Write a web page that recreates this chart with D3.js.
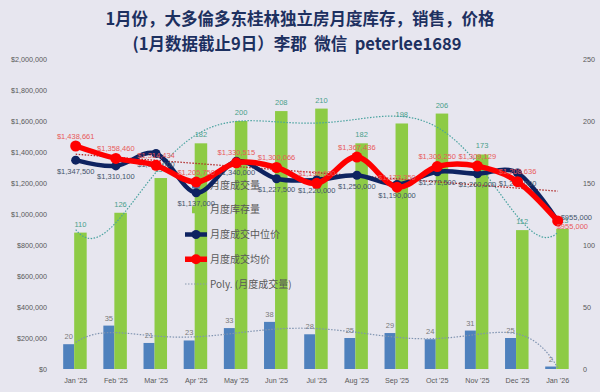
<!DOCTYPE html>
<html><head><meta charset="utf-8">
<script src="https://cdn.jsdelivr.net/npm/d3@7"></script>
<style>
html,body{margin:0;padding:0;background:#e7e6ef;}
svg{display:block;}
text{font-family:"Liberation Sans",Arial,sans-serif;}
</style></head>
<body>
<svg id="c" width="600" height="392"></svg>
<script>
const months = ["Jan '25","Feb '25","Mar '25","Apr '25","May '25","Jun '25","Jul '25","Aug '25","Sep '25","Oct '25","Nov '25","Dec '25","Jan '26"];
const sales = [20,35,21,23,33,38,28,25,29,24,31,25,2];
const inventory = [110,126,154,182,200,208,210,182,198,206,173,112,113];
const medianPrice = [1347500,1310100,1390000,1137000,1340000,1227500,1220000,1250000,1190000,1272500,1260000,1265000,955000];
const meanPrice = [1438661,1358460,1314434,1205750,1330515,1300066,1198000,1367436,1173350,1306250,1309129,1208636,955000];
const leftTicks = [0,200000,400000,600000,800000,1000000,1200000,1400000,1600000,1800000,2000000];
const rightTicks = [0,50,100,150,200,250];
const titleLines = ["1月份，大多倫多东桂林独立房月度库存，销售，价格","(1月数据截止9日）李郡  微信  peterlee1689"];
const legendItems = ["月度成交量","月度库存量","月度成交中位价","月度成交均价","Poly. (月度成交量)"];

const svg = d3.select("#c");
svg.append("rect").attr("width",600).attr("height",392).attr("fill","#e7e6ef");

const x = d3.scaleBand().domain(months).range([55.6,577.8]).paddingInner(0).paddingOuter(0);
const cx = m => x(m) + x.bandwidth()/2;
const xi = d3.scaleLinear().domain([0,months.length-1]).range([cx(months[0]),cx(months[months.length-1])]);
const yL = d3.scaleLinear().domain([0,2000000]).range([369,59]);
const yR = d3.scaleLinear().domain([0,250]).range([369,59]);
const money = d3.format("$,");

// Title
svg.selectAll(".title").data(titleLines).join("text")
  .attr("x",(d,i)=>i===0?300:297).attr("y",(d,i)=>25+i*25)
  .attr("text-anchor","middle")
  .style("white-space","pre")
  .style("font-family","'Noto Sans CJK SC',sans-serif")
  .style("font-weight","bold").style("font-size","16.5px")
  .attr("fill","#1d3060").text(d=>d);

// Axes
const axL = svg.append("g").attr("transform","translate(50,0)")
  .call(d3.axisLeft(yL).tickValues(leftTicks).tickFormat(money).tickSize(0).tickPadding(3));
const axR = svg.append("g").attr("transform","translate(580,0)")
  .call(d3.axisRight(yR).tickValues(rightTicks).tickSize(0).tickPadding(3));
const axB = svg.append("g").attr("transform","translate(0,369)")
  .call(d3.axisBottom(x).tickSize(0).tickPadding(9));
[axL,axR,axB].forEach(g=>{
  g.select(".domain").remove();
  g.selectAll("text").style("font-size","7.2px").attr("fill","#595959").style("font-family","'Liberation Sans',Arial,sans-serif");
});

// Bars
svg.append("g").selectAll("rect").data(months).join("rect")
  .attr("x",(m)=>cx(m)-12.5).attr("width",11)
  .attr("y",(m,i)=>yR(sales[i])).attr("height",(m,i)=>yR(0)-yR(sales[i]))
  .attr("fill","#4f81bd");
svg.append("g").selectAll("rect").data(months).join("rect")
  .attr("x",(m)=>cx(m)-1.5).attr("width",12.5)
  .attr("y",(m,i)=>yR(inventory[i])).attr("height",(m,i)=>yR(0)-yR(inventory[i]))
  .attr("fill","#8dcb45");

// bar labels
svg.append("g").selectAll("text").data(months).join("text")
  .attr("x",m=>cx(m)-7).attr("y",(m,i)=>yR(sales[i])-5)
  .attr("text-anchor","middle").style("font-size","7.5px").attr("fill","#7a7a7a")
  .text((m,i)=>sales[i]);
svg.append("g").selectAll("text").data(months).join("text")
  .attr("x",m=>cx(m)+4.7).attr("y",(m,i)=>yR(inventory[i])-6)
  .attr("text-anchor","middle").style("font-size","7.5px").attr("fill","#4a9f8a")
  .text((m,i)=>inventory[i]);

// Legend
const lg = svg.append("g");
const lx = 185, ly0 = 185, lstep = 24.75;
legendItems.forEach((t,i)=>{
  const yy = ly0 + i*lstep;
  if(i===0) lg.append("rect").attr("x",lx+7).attr("y",yy-3.5).attr("width",8).attr("height",7).attr("fill","#4f81bd");
  if(i===1) lg.append("rect").attr("x",lx+7).attr("y",yy-3.5).attr("width",8).attr("height",7).attr("fill","#8dcb45");
  if(i===2){ lg.append("line").attr("x1",lx).attr("x2",lx+22).attr("y1",yy).attr("y2",yy).attr("stroke","#0e2361").attr("stroke-width",4.5);
    lg.append("circle").attr("cx",lx+11).attr("cy",yy).attr("r",4.5).attr("fill","#0e2361"); }
  if(i===3){ lg.append("line").attr("x1",lx).attr("x2",lx+22).attr("y1",yy).attr("y2",yy).attr("stroke","#ff0000").attr("stroke-width",5.5);
    lg.append("circle").attr("cx",lx+11).attr("cy",yy).attr("r",5).attr("fill","#ff0000"); }
  if(i===4) lg.append("line").attr("x1",lx).attr("x2",lx+22).attr("y1",yy).attr("y2",yy).attr("stroke","#8a9ab0").attr("stroke-width",1.2).attr("stroke-dasharray","1.5,1.5");
  lg.append("text").attr("x",lx+25).attr("y",yy+3.5).style("font-size","10px")
    .style("font-family","'Noto Sans CJK SC','Liberation Sans',sans-serif").attr("fill","#595959").text(t);
});

// Polynomial fit (derived from the data arrays)
function polyfit(ys, deg){
  const n = ys.length, h=(n-1)/2;
  const xs = ys.map((_,i)=>(i-h)/h);
  const m = deg+1;
  const A = Array.from({length:m},()=>new Array(m).fill(0));
  const b = new Array(m).fill(0);
  xs.forEach((xv,k)=>{
    for(let r=0;r<m;r++){ b[r]+=ys[k]*Math.pow(xv,r); for(let c=0;c<m;c++) A[r][c]+=Math.pow(xv,r+c); }
  });
  for(let c=0;c<m;c++){
    let p=c; for(let r=c+1;r<m;r++) if(Math.abs(A[r][c])>Math.abs(A[p][c])) p=r;
    [A[c],A[p]]=[A[p],A[c]]; [b[c],b[p]]=[b[p],b[c]];
    for(let r=c+1;r<m;r++){ const f=A[r][c]/A[c][c]; for(let k=c;k<m;k++) A[r][k]-=f*A[c][k]; b[r]-=f*b[c]; }
  }
  const co=new Array(m).fill(0);
  for(let r=m-1;r>=0;r--){ let s=b[r]; for(let k=r+1;k<m;k++) s-=A[r][k]*co[k]; co[r]=s/A[r][r]; }
  return t=>{ const xv=(t-h)/h; return co.reduce((s,c,i)=>s+c*Math.pow(xv,i),0); };
}
const samples = d3.range(0, months.length-1+0.001, 0.1);
const invFit = polyfit(inventory,6), salesFit = polyfit(sales,6), meanFit = polyfit(meanPrice,1);
svg.append("path").datum(samples)
  .attr("d",d3.line().x(t=>xi(t)).y(t=>yR(invFit(t))))
  .attr("fill","none").attr("stroke","#4aa3a0").attr("stroke-width",1.2).attr("stroke-dasharray","1.5,1.5");
svg.append("path").datum(samples)
  .attr("d",d3.line().x(t=>xi(t)).y(t=>yR(salesFit(t))))
  .attr("fill","none").attr("stroke","#7f93b0").attr("stroke-width",1.2).attr("stroke-dasharray","1.5,1.5");
svg.append("path").datum([0,months.length-1])
  .attr("d",d3.line().x(t=>xi(t)).y(t=>yL(meanFit(t))))
  .attr("fill","none").attr("stroke","#b02a2a").attr("stroke-width",1.3).attr("stroke-dasharray","1.5,1.5");

// Lines
const curve = d3.curveCatmullRom.alpha(0);
const navy = "#0e2361", red = "#ff0000";
svg.append("path").datum(medianPrice)
  .attr("d",d3.line().x((d,i)=>cx(months[i])).y(d=>yL(d)).curve(curve))
  .attr("fill","none").attr("stroke",navy).attr("stroke-width",4.5);
svg.append("g").selectAll("circle").data(medianPrice).join("circle")
  .attr("cx",(d,i)=>cx(months[i])).attr("cy",d=>yL(d)).attr("r",4.5).attr("fill",navy);
svg.append("g").selectAll("text").data(medianPrice).join("text")
  .attr("x",(d,i)=> i===months.length-1 ? cx(months[i])+3 : cx(months[i]))
  .attr("y",(d,i)=> i===months.length-1 ? yL(d)-1 : yL(d)+13.5)
  .attr("text-anchor",(d,i)=> i===months.length-1 ? "start":"middle")
  .style("font-size","7.5px").attr("fill","#44546a").text(d=>money(d));

svg.append("path").datum(meanPrice)
  .attr("d",d3.line().x((d,i)=>cx(months[i])).y(d=>yL(d)).curve(curve))
  .attr("fill","none").attr("stroke",red).attr("stroke-width",5.5);
svg.append("g").selectAll("circle").data(meanPrice).join("circle")
  .attr("cx",(d,i)=>cx(months[i])).attr("cy",d=>yL(d)).attr("r",5.5).attr("fill",red);
svg.append("g").selectAll("text").data(meanPrice).join("text")
  .attr("x",(d,i)=> i===months.length-1 ? cx(months[i])-1 : cx(months[i]))
  .attr("y",(d,i)=> i===months.length-1 ? yL(d)+8 : yL(d)-7.5)
  .attr("text-anchor",(d,i)=> i===months.length-1 ? "start":"middle")
  .style("font-size","7.5px").attr("fill","#e85a5a").text(d=>money(d));
</script>
</body></html>
